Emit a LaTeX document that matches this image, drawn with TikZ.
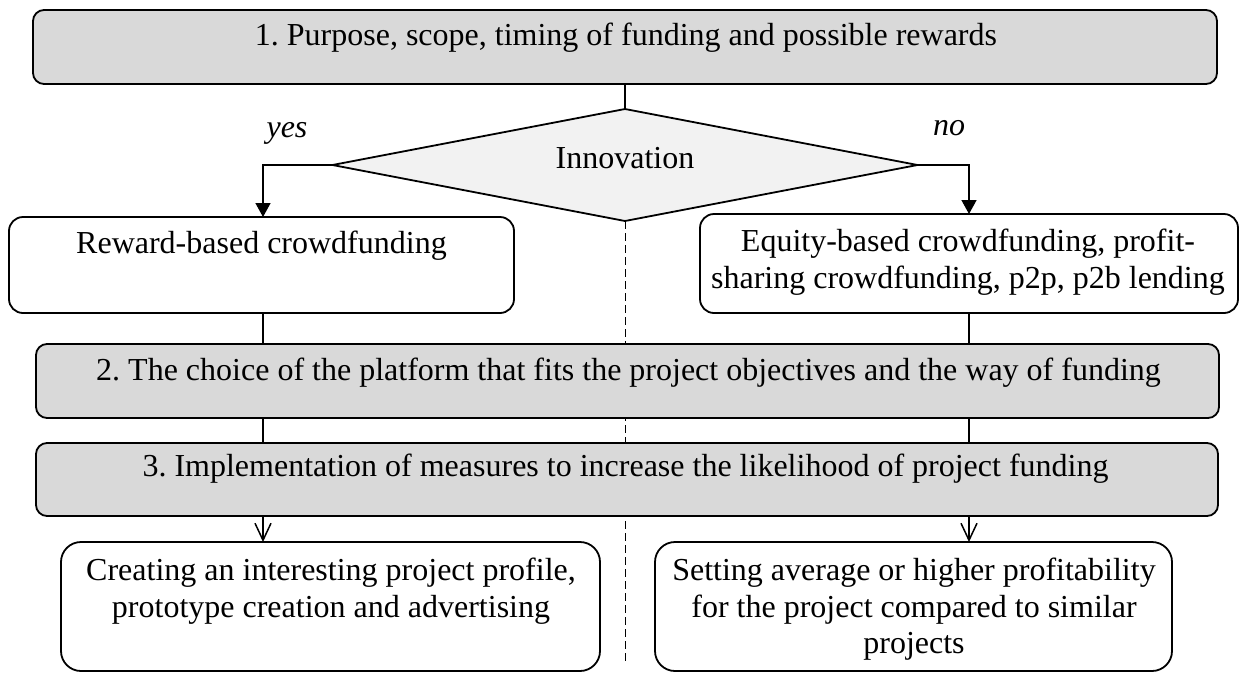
\documentclass[tikz,border=0pt]{standalone}
\usepackage{fontspec}
\setmainfont{Liberation Serif}
\usetikzlibrary{arrows.meta,shapes.geometric}
\definecolor{boxgray}{HTML}{D9D9D9}
\definecolor{diagray}{HTML}{F2F2F2}
\frenchspacing
\begin{document}
\begin{tikzpicture}[x=1pt,y=-1pt,
  gbox/.style={draw, line width=1.8pt, fill=boxgray, rounded corners=11pt, inner sep=0pt, outer sep=0pt, anchor=north west},
  wbox/.style={draw, line width=1.8pt, fill=white, rounded corners=#1, inner sep=0pt, outer sep=0pt, anchor=north west},
  txt/.style={font=\fontsize{32}{37}\selectfont, inner sep=0pt, outer sep=0pt, anchor=base},
  conn/.style={line width=1.5pt},
  solidarrow/.style={line width=1.5pt, -{Triangle[length=14pt,width=15pt]}},
  openarrow/.style={line width=1.5pt, -{Straight Barb[length=17pt,width=16pt,line width=1.5pt]}},
  dashline/.style={line width=1pt, dash pattern=on 8pt off 4pt}]
\useasboundingbox (0,0) rectangle (1240,673);
\fill[white] (0,0) rectangle (1240,673);
\coordinate (colL) at (263,0);
\coordinate (colR) at (969,0);
\coordinate (dashend) at (625,662);
% top box
\node[gbox, minimum width=1184pt, minimum height=74pt] (top) at (33,10) {};
\node[txt] (ttop) at (626,45) {1. Purpose, scope, timing of funding and possible rewards};
% diamond
\node[diamond, draw, line width=1.8pt, fill=diagray, minimum width=585pt, minimum height=112pt, inner sep=0pt, outer sep=0pt] (dia) at (625,165) {};
\node[txt] (tdia) at (625,168) {Innovation};
\draw[conn] (top.south -| dia.north) -- (dia.north);
\draw[dashline] (dia.south) -- (dashend);
% yes / no labels
\node[txt] (yes) at (287,137) {\itshape yes};
\node[txt] (no) at (949,135) {\itshape no};
% second row boxes
\node[wbox=14pt, minimum width=505pt, minimum height=96pt] (bl) at (9,217) {};
\node[txt] (tbl) at (261.5,253) {Reward-based crowdfunding};
\node[wbox=14pt, minimum width=538pt, minimum height=99pt] (br) at (700,214) {};
\node[txt] (tbr1) at (968,251) {Equity-based crowdfunding, profit-};
\node[txt] (tbr2) at (968,288) {sharing crowdfunding, p2p, p2b lending};
\draw[solidarrow] (dia.west) -| (bl.north -| colL);
\draw[solidarrow] (dia.east) -| (br.north -| colR);
% box 2
\node[gbox, minimum width=1183pt, minimum height=74pt] (b2) at (36,344) {};
\node[txt] (tb2) at (628.5,380) {2. The choice of the platform that fits the project objectives and the way of funding};
\draw[conn] (bl.south -| colL) -- (b2.north -| colL);
\draw[conn] (br.south -| colR) -- (b2.north -| colR);
% box 3
\node[gbox, minimum width=1182pt, minimum height=73pt] (b3) at (36,443) {};
\node[txt] (tb3) at (625.5,476) {3. Implementation of measures to increase the likelihood of project funding};
\draw[conn] (b2.south -| colL) -- (b3.north -| colL);
\draw[conn] (b2.south -| colR) -- (b3.north -| colR);
% bottom boxes
\node[wbox=20pt, minimum width=539pt, minimum height=129pt] (cl) at (61,542) {};
\node[txt] (tcl1) at (331,580) {Creating an interesting project profile,};
\node[txt] (tcl2) at (331,617) {prototype creation and advertising};
\node[wbox=20pt, minimum width=517pt, minimum height=129pt] (cr) at (655,542) {};
\node[txt] (tcr1) at (914,580) {Setting average or higher profitability};
\node[txt] (tcr2) at (914,617) {for the project compared to similar};
\node[txt] (tcr3) at (914,653) {projects};
\draw[openarrow] (b3.south -| colL) -- (cl.north -| colL);
\draw[openarrow] (b3.south -| colR) -- (cr.north -| colR);
\end{tikzpicture}
\end{document}
